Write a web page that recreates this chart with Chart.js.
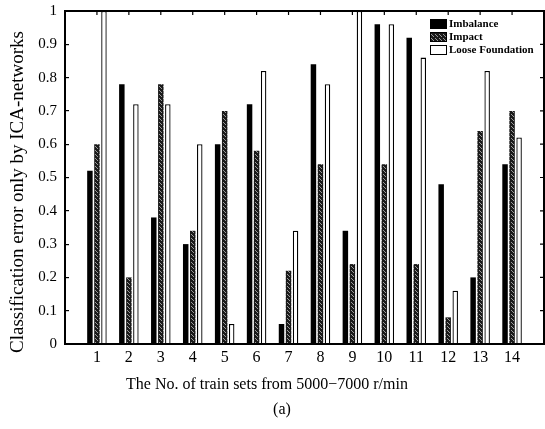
<!DOCTYPE html>
<html>
<head>
<meta charset="utf-8">
<script src="https://cdn.jsdelivr.net/npm/chart.js@4.4.1/dist/chart.umd.min.js"></script>
<style>
  html, body { margin: 0; padding: 0; background: #fff; }
  #wrap { width: 545px; height: 429px; position: relative; }
</style>
</head>
<body>
<div id="wrap"><canvas id="chart"></canvas></div>
<script>
// train set numbers on the x axis
const categories = ['1', '2', '3', '4', '5', '6', '7', '8', '9', '10', '11', '12', '13', '14'];
// classification error per fault type
const imbalance = [0.52, 0.78, 0.38, 0.30, 0.60, 0.72, 0.06, 0.84, 0.34, 0.96, 0.92, 0.48, 0.20, 0.54];
const impact = [0.60, 0.20, 0.78, 0.34, 0.70, 0.58, 0.22, 0.54, 0.24, 0.54, 0.24, 0.08, 0.64, 0.70];
const looseFoundation = [1.00, 0.72, 0.72, 0.60, 0.06, 0.82, 0.34, 0.78, 1.00, 0.96, 0.86, 0.16, 0.82, 0.62];
const yTicks = [0, 0.1, 0.2, 0.3, 0.4, 0.5, 0.6, 0.7, 0.8, 0.9, 1];

const serif = '"Liberation Serif", "DejaVu Serif", serif';

// speckled dark fill used for the Impact bars
function speckle() {
  const c = document.createElement('canvas');
  c.width = 4; c.height = 4;
  const g = c.getContext('2d');
  g.fillStyle = '#1a1a1a';
  g.fillRect(0, 0, 4, 4);
  g.fillStyle = '#9a9a9a';
  g.fillRect(1, 0, 1, 1);
  g.fillRect(3, 2, 1, 1);
  g.fillRect(0, 3, 1, 1);
  return g.createPattern(c, 'repeat');
}

function points(values) {
  return values.map((v, i) => ({ x: i + 1, y: v }));
}

function noPad(s) {
  s.paddingTop = 0;
  s.paddingBottom = 0;
  s.paddingLeft = 0;
  s.paddingRight = 0;
}

// box, inner ticks on top/right, legend and captions
const framePlugin = {
  id: 'frame',
  afterDraw(chart) {
    const ctx = chart.ctx;
    const a = chart.chartArea;
    const xs = chart.scales.x;
    const ys = chart.scales.y;
    ctx.save();
    ctx.strokeStyle = '#000';
    ctx.lineWidth = 2;
    ctx.strokeRect(a.left, a.top, a.right - a.left, a.bottom - a.top);
    ctx.lineWidth = 1.2;
    ctx.beginPath();
    categories.forEach((c, i) => {
      const px = xs.getPixelForValue(i + 1);
      ctx.moveTo(px, a.top);
      ctx.lineTo(px, a.top + 4);
    });
    yTicks.forEach(t => {
      const py = ys.getPixelForValue(t);
      ctx.moveTo(a.right, py);
      ctx.lineTo(a.right - 4, py);
    });
    ctx.stroke();

    // legend
    const lx = 430, ly = 19, row = 13;
    chart.data.datasets.forEach((ds, i) => {
      const y = ly + i * row;
      ctx.fillStyle = ds.backgroundColor;
      ctx.fillRect(lx, y, 17, 10);
      ctx.strokeStyle = '#000';
      ctx.lineWidth = 1;
      ctx.strokeRect(lx + 0.5, y + 0.5, 16, 9);
      ctx.fillStyle = '#000';
      ctx.font = 'bold 11px ' + serif;
      ctx.textBaseline = 'middle';
      ctx.textAlign = 'left';
      ctx.fillText(ds.label, lx + 19, y + 5);
    });

    // axis captions and panel label
    ctx.fillStyle = '#000';
    ctx.font = '16px ' + serif;
    ctx.textAlign = 'center';
    ctx.textBaseline = 'middle';
    ctx.fillText('The No. of train sets from 5000\u22127000 r/min', 267, 385);
    ctx.fillText('(a)', 282, 410);
    ctx.save();
    ctx.translate(18, 192);
    ctx.rotate(-Math.PI / 2);
    ctx.font = '19px ' + serif;
    ctx.fillText('Classification error only by ICA-networks', 0, 0);
    ctx.restore();
    ctx.restore();
  }
};

new Chart(document.getElementById('chart'), {
  type: 'bar',
  data: {
    datasets: [
      {
        label: 'Imbalance',
        data: points(imbalance),
        backgroundColor: '#000',
        borderWidth: 0
      },
      {
        label: 'Impact',
        data: points(impact),
        backgroundColor: speckle(),
        borderColor: '#000',
        borderWidth: 0
      },
      {
        label: 'Loose Foundation',
        data: points(looseFoundation),
        backgroundColor: '#fff',
        borderColor: '#000',
        borderWidth: 1.3
      }
    ]
  },
  options: {
    responsive: true,
    maintainAspectRatio: false,
    animation: false,
    layout: { padding: { top: 11, right: 1, left: 0, bottom: 0 } },
    categoryPercentage: 0.66,
    barPercentage: 0.78,
    plugins: {
      legend: { display: false },
      tooltip: { enabled: false }
    },
    scales: {
      x: {
        type: 'linear',
        min: 0,
        max: 15,
        offset: false,
        afterFit: s => { s.height = 85; noPad(s); },
        afterBuildTicks: s => {
          s.ticks = categories.map((c, i) => ({ value: i + 1 }));
        },
        grid: { drawOnChartArea: false, offset: false, tickLength: -4, color: '#000', lineWidth: 1.2 },
        border: { display: false },
        ticks: {
          autoSkip: false,
          maxRotation: 0,
          padding: 8,
          color: '#000',
          font: { family: serif, size: 16 },
          callback: v => categories[v - 1]
        }
      },
      y: {
        min: 0,
        max: 1,
        afterFit: s => { s.width = 65; noPad(s); },
        afterBuildTicks: s => {
          s.ticks = yTicks.map(v => ({ value: v }));
        },
        grid: { drawOnChartArea: false, tickLength: -4, color: '#000', lineWidth: 1.2 },
        border: { display: false },
        ticks: {
          padding: 12,
          color: '#000',
          font: { family: serif, size: 15 },
          callback: v => String(v)
        }
      }
    }
  },
  plugins: [framePlugin]
});
</script>
</body>
</html>
